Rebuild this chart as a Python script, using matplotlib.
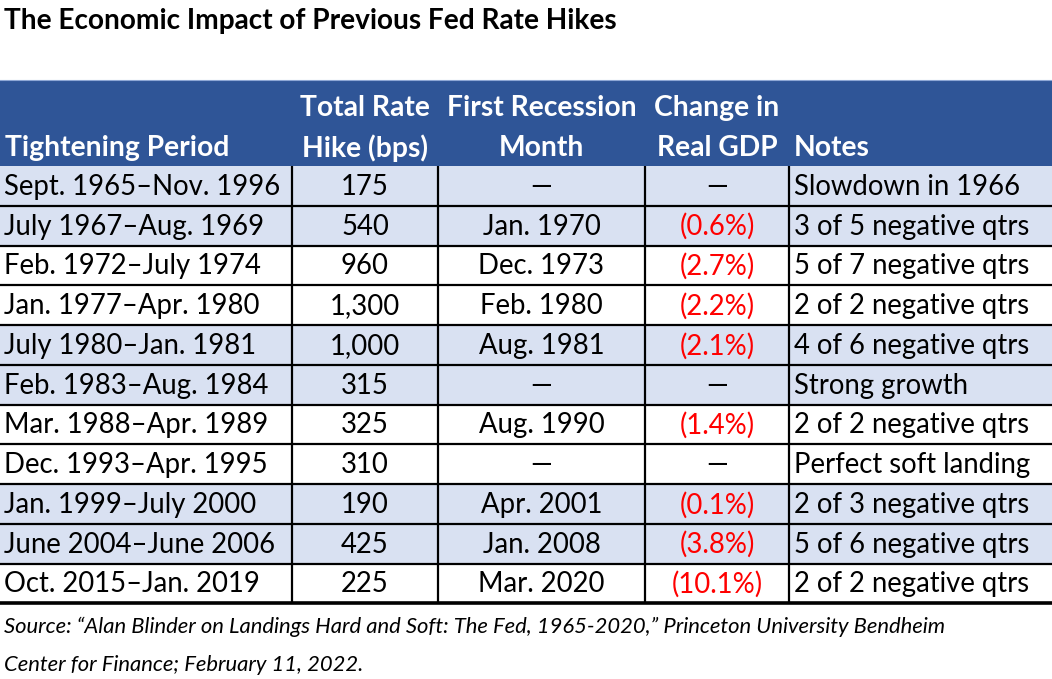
import matplotlib
matplotlib.use("Agg")
import matplotlib.pyplot as plt
from matplotlib.patches import Rectangle

# --- data -------------------------------------------------------------
title = "The Economic Impact of Previous Fed Rate Hikes"
headers = [
    "Tightening Period",
    "Total Rate\nHike (bps)",
    "First Recession\nMonth",
    "Change in\nReal GDP",
    "Notes",
]
periods = [
    "Sept. 1965–Nov. 1996", "July 1967–Aug. 1969", "Feb. 1972–July 1974",
    "Jan. 1977–Apr. 1980", "July 1980–Jan. 1981", "Feb. 1983–Aug. 1984",
    "Mar. 1988–Apr. 1989", "Dec. 1993–Apr. 1995", "Jan. 1999–July 2000",
    "June 2004–June 2006", "Oct. 2015–Jan. 2019",
]
hikes = ["175", "540", "960", "1,300", "1,000", "315", "325", "310", "190", "425", "225"]
recession = ["—", "Jan. 1970", "Dec. 1973", "Feb. 1980", "Aug. 1981", "—",
             "Aug. 1990", "—", "Apr. 2001", "Jan. 2008", "Mar. 2020"]
gdp = ["—", "(0.6%)", "(2.7%)", "(2.2%)", "(2.1%)", "—", "(1.4%)", "—",
       "(0.1%)", "(3.8%)", "(10.1%)"]
notes = ["Slowdown in 1966", "3 of 5 negative qtrs", "5 of 7 negative qtrs",
         "2 of 2 negative qtrs", "4 of 6 negative qtrs", "Strong growth",
         "2 of 2 negative qtrs", "Perfect soft landing", "2 of 3 negative qtrs",
         "5 of 6 negative qtrs", "2 of 2 negative qtrs"]
source_lines = [
    "Source: \u201cAlan Blinder on Landings Hard and Soft: The Fed, 1965-2020,\u201d "
    "Princeton University Bendheim",
    "Center for Finance; February 11, 2022.",
]

# --- layout (pixels) --------------------------------------------------
W, H = 1052, 679
col_edges = [0, 292, 438, 645, 789, 1052]
header_top, header_bot = 80, 166
row_h = 39.75
shaded = [True, True, False, False] * 3

HEAD_BLUE = "#2F5597"
SHADE = "#D9E1F2"
FONT = "Lato"
BODY_SIZE = 19.8
HEAD_SIZE = 20.3

plt.rcParams["font.family"] = [FONT, "DejaVu Sans"]

fig = plt.figure(figsize=(W / 100, H / 100), dpi=100)
ax = fig.add_axes([0, 0, 1, 1])
ax.set_xlim(0, W)
ax.set_ylim(H, 0)
ax.axis("off")

ax.text(4, 21, title, fontsize=20.2, fontweight="bold", va="center", ha="left")

# header band
ax.add_patch(Rectangle((0, header_top), W, header_bot - header_top,
                       facecolor=HEAD_BLUE, edgecolor="none"))
ax.plot([0, W], [header_top, header_top], color="#8FA8D6", lw=0.8)

for i, h in enumerate(headers):
    lines = h.split("\n")
    if len(lines) == 1:
        lines = ["", lines[0]]
    left, right = col_edges[i], col_edges[i + 1]
    if i in (0, 4):
        x, ha = left + 5, "left"
    else:
        x, ha = (left + right) / 2, "center"
    for j, s in enumerate(lines):
        ax.text(x, 108 + j * 40, s, color="white", fontsize=HEAD_SIZE,
                fontweight="bold", ha=ha, va="center")

n = len(periods)
for r in range(n):
    y0 = header_bot + r * row_h
    if shaded[r]:
        ax.add_patch(Rectangle((0, y0), W, row_h, facecolor=SHADE, edgecolor="none"))
    yc = y0 + row_h / 2 + 1
    ax.text(4, yc, periods[r], fontsize=BODY_SIZE, ha="left", va="center")
    ax.text((col_edges[1] + col_edges[2]) / 2, yc, hikes[r], fontsize=BODY_SIZE,
            ha="center", va="center")
    ax.text((col_edges[2] + col_edges[3]) / 2, yc, recession[r], fontsize=BODY_SIZE,
            ha="center", va="center")
    ax.text((col_edges[3] + col_edges[4]) / 2, yc, gdp[r], fontsize=BODY_SIZE,
            ha="center", va="center",
            color="#FF0000" if gdp[r].startswith("(") else "black")
    ax.text(col_edges[4] + 5, yc, notes[r], fontsize=BODY_SIZE, ha="left", va="center")

bottom = header_bot + n * row_h
for r in range(1, n + 1):
    y = header_bot + r * row_h
    ax.plot([0, W], [y, y], color="black", lw=2.6 if r == n else 1.6,
            solid_capstyle="butt")
for x in col_edges[1:-1]:
    ax.plot([x, x], [header_bot, bottom], color="black", lw=1.6, solid_capstyle="butt")

for k, s in enumerate(source_lines):
    ax.text(4, 627 + k * 38, s, fontsize=15.8, fontstyle="italic",
            ha="left", va="center")

fig.savefig("out.png", dpi=100)
